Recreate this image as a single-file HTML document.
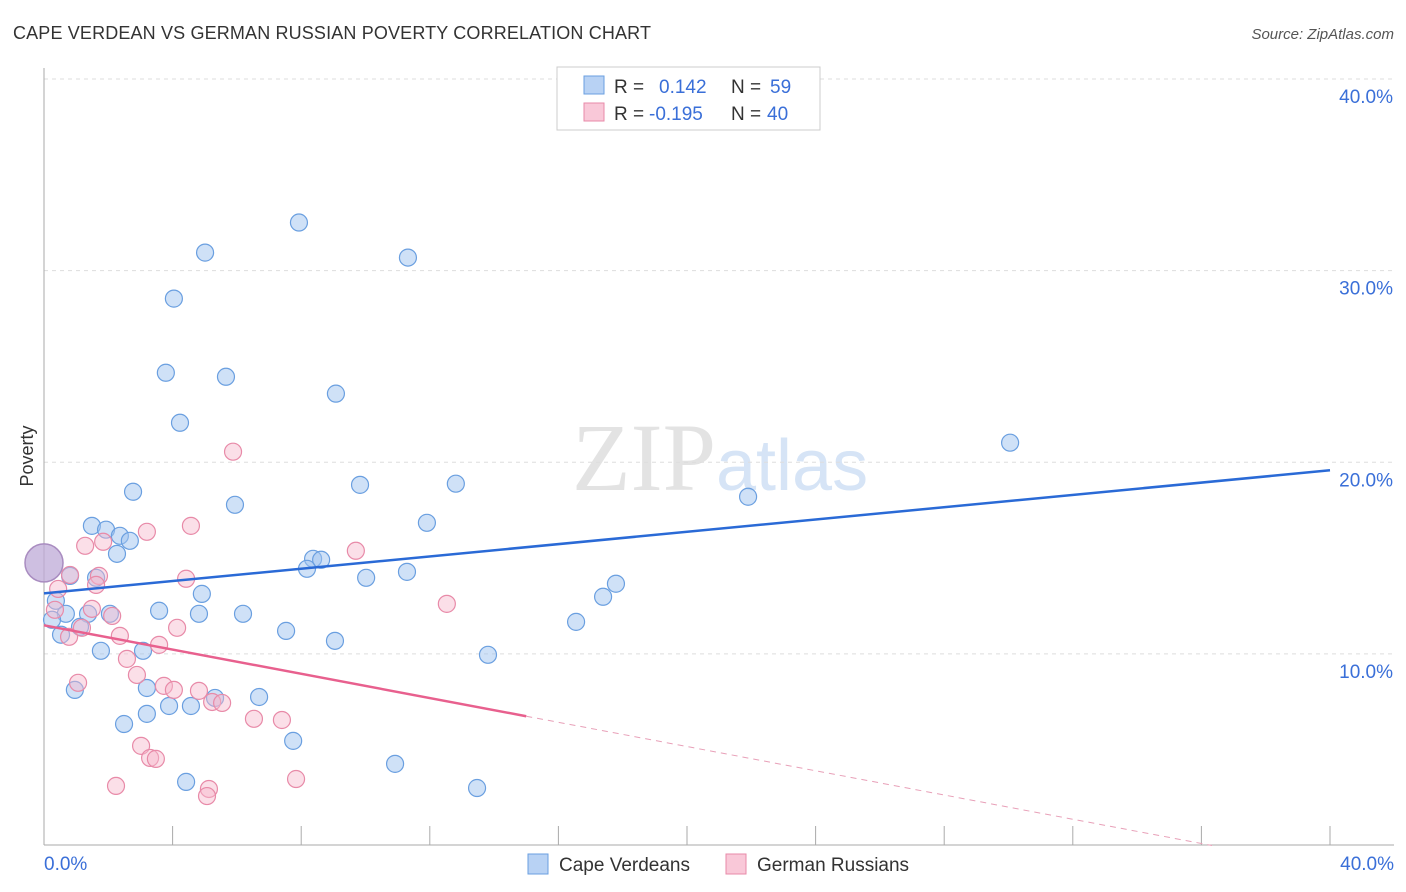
<!DOCTYPE html>
<html><head><meta charset="utf-8"><style>
body{margin:0;background:#fff;font-family:"Liberation Sans",sans-serif}
</style></head><body>
<svg id="chart" width="1406" height="892" style="display:block">
<text x="13" y="39" font-size="18" fill="#333" textLength="638">CAPE VERDEAN VS GERMAN RUSSIAN POVERTY CORRELATION CHART</text>
<text x="1394" y="39" font-size="15" fill="#555" font-style="italic" text-anchor="end">Source: ZipAtlas.com</text>
<text x="716" y="490" font-size="96" fill="#e3e3e3" text-anchor="end" font-family="Liberation Serif">ZIP</text>
<text x="716" y="490" font-size="72" fill="#d6e4f6">atlas</text>
<text x="33" y="456" font-size="18" fill="#333" text-anchor="middle" transform="rotate(-90 33 456)">Poverty</text>
<g id="grid"></g><g id="marks"></g>
<g>
<rect x="557" y="67" width="263" height="63" fill="#fff" stroke="#ccc"/>
<rect x="584" y="76" width="20" height="18" fill="#b8d2f4" stroke="#6a9fe0"/>
<rect x="584" y="103" width="20" height="18" fill="#f9c8d8" stroke="#e88aa8"/>
<text x="614" y="93" font-size="19" fill="#333">R = <tspan fill="#3a6fd8" x="659">0.142</tspan><tspan x="731" fill="#333">N = </tspan><tspan fill="#3a6fd8" x="770">59</tspan></text>
<text x="614" y="120" font-size="19" fill="#333">R = <tspan fill="#3a6fd8" x="649">-0.195</tspan><tspan x="731" fill="#333">N = </tspan><tspan fill="#3a6fd8" x="767">40</tspan></text>
</g>
<g>
<rect x="528" y="854" width="20" height="20" fill="#b8d2f4" stroke="#6a9fe0"/>
<text x="559" y="871" font-size="19" fill="#333">Cape Verdeans</text>
<rect x="726" y="854" width="20" height="20" fill="#f9c8d8" stroke="#e88aa8"/>
<text x="757" y="871" font-size="19" fill="#333">German Russians</text>
</g>
</svg>
<script>
const yTicks=[10,20,30,40];
const xTickLabels=["0.0%","40.0%"];
const blueX=[7.93,5.01,11.32,4.04,3.79,5.66,9.08,4.23,30.05,2.77,9.83,12.81,21.90,5.94,11.91,1.49,1.93,2.36,2.67,2.27,8.37,8.62,8.18,11.29,10.02,0.81,1.62,17.79,17.39,4.91,0.37,3.58,4.82,6.19,0.68,1.37,2.05,0.25,16.55,7.53,1.12,0.53,9.05,1.77,3.08,13.81,3.20,0.96,6.69,5.32,3.89,4.57,3.20,2.49,7.75,10.92,4.42,13.47];
const blueY=[32.51,30.94,30.68,28.54,24.67,24.46,23.58,22.06,21.02,18.46,18.82,18.88,18.20,17.78,16.84,16.68,16.48,16.16,15.90,15.22,14.96,14.91,14.44,14.28,13.97,14.07,13.97,13.66,12.98,13.13,12.77,12.25,12.09,12.09,12.09,12.09,12.09,11.78,11.67,11.20,11.41,11.00,10.68,10.16,10.16,9.95,8.22,8.12,7.75,7.70,7.28,7.28,6.87,6.34,5.46,4.26,3.32,3.00];
const pinkX=[5.88,4.57,3.20,1.28,1.84,9.70,0.81,1.71,4.42,1.62,0.44,12.53,1.49,2.12,4.14,2.36,0.78,3.58,2.58,2.89,1.06,3.73,4.04,4.82,5.23,5.54,6.53,7.40,3.02,3.30,3.48,2.24,5.13,5.07,7.84,0.34,1.18];
const pinkY=[20.55,16.68,16.37,15.64,15.85,15.38,14.12,14.07,13.92,13.60,13.39,12.61,12.35,11.98,11.36,10.94,10.89,10.47,9.74,8.90,8.49,8.33,8.12,8.07,7.49,7.44,6.61,6.55,5.20,4.57,4.52,3.11,2.95,2.58,3.47,12.30,11.36];
const bigPoint=[0,14.75];
const blueTrend=[13.16,19.58];
const pinkTrend=[11.49,-1.16];
const X0=44,X1=1330,Y0=845.5,Ymax=40,Yp=79;
const sx=v=>X0+(X1-X0)*v/40;
const sy=v=>Y0-(Y0-Yp)*v/Ymax;
const NS="http://www.w3.org/2000/svg";
function mk(t,a,p){const e=document.createElementNS(NS,t);for(const k in a)e.setAttribute(k,a[k]);p.appendChild(e);return e;}
const g=document.getElementById('grid'),m=document.getElementById('marks');
yTicks.forEach(t=>{
 const l=mk('line',{x1:44,x2:1394,y1:sy(t),y2:sy(t),stroke:'#ddd','stroke-dasharray':'4,4'},g);
 
 
 const tx=mk('text',{x:1393,y:sy(t)+24,'font-size':19,fill:'#3a6fd8','text-anchor':'end'},g);tx.textContent=t.toFixed(1)+'%';
 
 
});
const ax=mk('line',{x1:44,x2:44,y1:68,y2:845,stroke:'#aaa'},g);


const bx=mk('line',{x1:44,x2:1394,y1:845,y2:845,stroke:'#aaa'},g);


for(let i=0;i<=10;i++){const t=mk('line',{x1:sx(i*4),x2:sx(i*4),y1:826,y2:845,stroke:'#aaa'},g);
 
 }
[[0,'start',44],[40,'end',1394]].forEach((d,i)=>{const t=mk('text',{x:d[2],y:870,'font-size':19,fill:'#3a6fd8','text-anchor':d[1]},g);t.textContent=xTickLabels[i];
 
 });
blueX.forEach((x,i)=>{const c=mk('circle',{cx:sx(x),cy:sy(blueY[i]),r:8.5,fill:'rgba(160,196,240,0.5)',stroke:'#6a9fe0','stroke-width':1.2},m);
 
 });
pinkX.forEach((x,i)=>{const c=mk('circle',{cx:sx(x),cy:sy(pinkY[i]),r:8.5,fill:'rgba(246,184,204,0.45)',stroke:'#e88aa8','stroke-width':1.2},m);
 
 });
const bp=mk('circle',{cx:sx(bigPoint[0]),cy:sy(bigPoint[1]),r:19,fill:'rgba(190,170,215,0.75)',stroke:'#a98cc0','stroke-width':1.5},m);


const bl=mk('line',{x1:sx(0),y1:sy(blueTrend[0]),x2:sx(40),y2:sy(blueTrend[1]),stroke:'#2a6ad6','stroke-width':2.5},m);


const pf=x=>pinkTrend[0]+(pinkTrend[1]-pinkTrend[0])*x/40;
const pl=mk('line',{x1:sx(0),y1:sy(pf(0)),x2:sx(15),y2:sy(pf(15)),stroke:'#e8608e','stroke-width':2.5},m);


const xe=pinkTrend[0]*40/(pinkTrend[0]-pinkTrend[1]);
const pd=mk('line',{x1:sx(15),y1:sy(pf(15)),x2:sx(xe),y2:sy(0),stroke:'#e8a0b8','stroke-width':1,'stroke-dasharray':'6,5'},m);


</script>
</body></html>
